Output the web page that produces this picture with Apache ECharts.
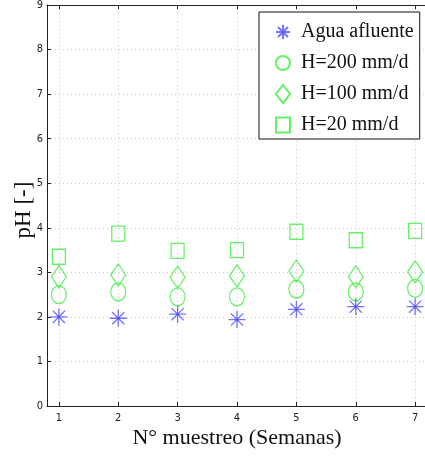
<!DOCTYPE html>
<html><head><meta charset="utf-8">
<script src="https://cdn.jsdelivr.net/npm/echarts@6/dist/echarts.min.js"></script>
<style>html,body{margin:0;padding:0;background:#fff}#c{width:425px;height:456px}</style>
</head><body><div id="c"></div>
<script>
var weeks = [1, 2, 3, 4, 5, 6, 7];
var xTicks = [1, 2, 3, 4, 5, 6, 7];
var aguaAfluente = [2.00, 1.97, 2.06, 1.94, 2.17, 2.23, 2.23];
var h200 = [2.50, 2.56, 2.45, 2.45, 2.62, 2.56, 2.64];
var h100 = [2.90, 2.94, 2.89, 2.92, 3.03, 2.90, 3.01];
var h20 = [3.35, 3.87, 3.48, 3.50, 3.91, 3.72, 3.93];
var seriesNames = ['Agua afluente', 'H=200 mm/d', 'H=100 mm/d', 'H=20 mm/d'];

function pts(v) { return weeks.map(function (w, i) { return [w, v[i]]; }); }

var serif = 'Liberation Serif, Times New Roman, serif';
var narrow = 'Liberation Sans Narrow, Arial Narrow, DejaVu Sans Condensed, sans-serif';
var green = '#3fee3f';
var blue = '#5050ff';
var asterisk = 'path://M0,8L16,8M8,0L8,16M2.3,2.3L13.7,13.7M13.7,2.3L2.3,13.7M7,7L9,7L9,9L7,9Z';
var square = 'path://M0,0L13,0L13,14L0,14Z';

var chart = echarts.init(document.getElementById('c'), null, {renderer: 'canvas'});
var xBase = {
  type: 'value', min: 0.8, max: 7.2,
  axisLine: {show: true, onZero: false, lineStyle: {color: '#222', width: 1}},
  axisTick: {show: true, inside: true, length: 4, customValues: xTicks, lineStyle: {color: '#222'}},
  splitLine: {show: false}
};
chart.setOption({
  animation: false,
  backgroundColor: '#fff',
  grid: {left: 47, top: 5, right: -2, bottom: 50, containLabel: false, outerBoundsMode: 'none'},
  xAxis: [
    Object.assign({}, xBase, {
      position: 'bottom',
      name: 'N° muestreo (Semanas)', nameLocation: 'middle', nameGap: 21, nameMoveOverlap: false,
      nameTextStyle: {fontFamily: serif, fontSize: 22, color: '#111'},
      axisLabel: {customValues: xTicks, fontFamily: narrow, fontSize: 11, color: '#222', margin: 7},
      splitLine: {show: true, customValues: xTicks, lineStyle: {color: '#c8c8c8', type: [1, 3], width: 1}}
    }),
    Object.assign({}, xBase, {position: 'top', axisLabel: {show: false}})
  ],
  yAxis: {
    type: 'value', min: 0, max: 9, interval: 1,
    name: 'pH [-]', nameLocation: 'middle', nameGap: 12, nameRotate: 90, nameMoveOverlap: false,
    nameTextStyle: {fontFamily: serif, fontSize: 23, color: '#111', padding: [0, 9, 0, 0]},
    axisLine: {show: true, lineStyle: {color: '#222'}},
    axisTick: {show: true, inside: true, length: 4, lineStyle: {color: '#222'}},
    axisLabel: {fontFamily: narrow, fontSize: 11, color: '#222', margin: 4},
    splitLine: {show: true, lineStyle: {color: '#c8c8c8', type: [1, 3], width: 1}}
  },
  legend: {
    orient: 'vertical', left: 259, top: 12,
    padding: [9, 6, 3, 16], itemGap: 9, itemWidth: 14, itemHeight: 18,
    backgroundColor: '#fff', borderColor: '#111', borderWidth: 1, borderRadius: 0,
    textStyle: {fontFamily: serif, fontSize: 20, lineHeight: 22, color: '#111', padding: [0, 0, 0, 6]},
    data: seriesNames
  },
  series: [
    {name: seriesNames[0], type: 'scatter', data: pts(aguaAfluente), symbol: asterisk, symbolSize: 17, symbolKeepAspect: true,
     itemStyle: {color: '#1010ee', borderColor: blue, borderWidth: 1.3}, z: 5},
    {name: seriesNames[1], type: 'scatter', data: pts(h200), symbol: 'circle', symbolSize: [15, 18],
     itemStyle: {color: 'transparent', borderColor: green, borderWidth: 1.3}},
    {name: seriesNames[2], type: 'scatter', data: pts(h100), symbol: 'diamond', symbolSize: [15, 22],
     itemStyle: {color: 'transparent', borderColor: green, borderWidth: 1.3}},
    {name: seriesNames[3], type: 'scatter', data: pts(h20), symbol: square, symbolSize: [14, 15], symbolKeepAspect: true,
     itemStyle: {color: 'transparent', borderColor: green, borderWidth: 1.3}}
  ]
});
</script></body></html>
